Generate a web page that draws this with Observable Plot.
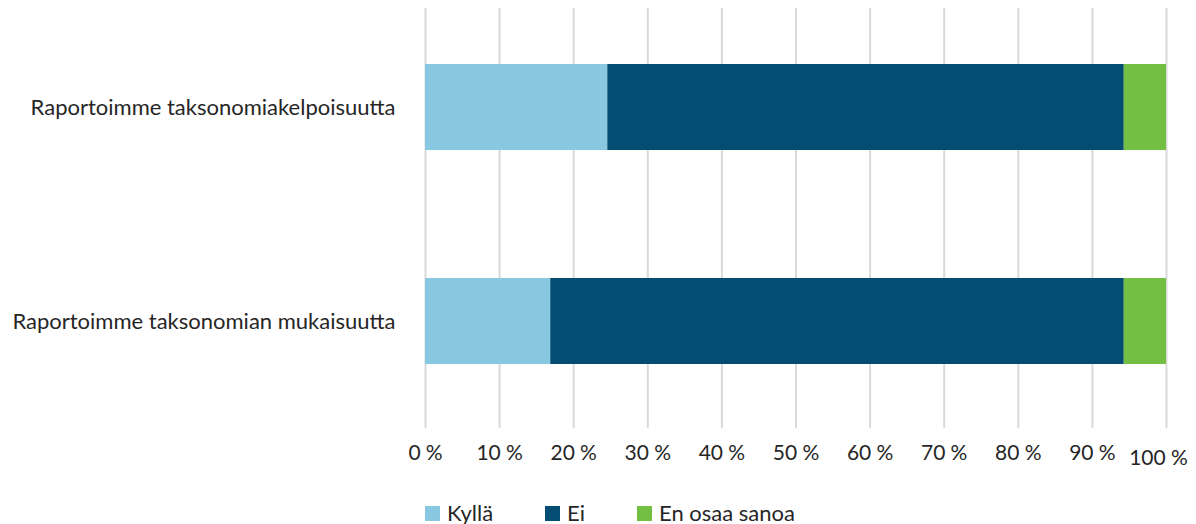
<!DOCTYPE html>
<html>
<head>
<meta charset="utf-8">
<script src="https://cdn.jsdelivr.net/npm/d3@7"></script>
<script src="https://cdn.jsdelivr.net/npm/@observablehq/plot@0.6"></script>
<style>
  html, body { margin: 0; padding: 0; background: #ffffff; }
  body { width: 1196px; height: 524px; overflow: hidden; font-family: Lato, "Open Sans", sans-serif; }
  #legend { display: flex; align-items: center; margin-left: 425px; margin-top: 20px; font-size: 22px; color: #262626; line-height: 26px; }
  .item { display: flex; align-items: center; margin-right: 52px; }
  .sw { width: 15px; height: 15px; margin-right: 7px; }
</style>
</head>
<body>
<div id="chart"></div>
<div id="legend"></div>
<script>
const categories = ["Raportoimme taksonomiakelpoisuutta", "Raportoimme taksonomian mukaisuutta"];
const answers = ["Kyllä", "Ei", "En osaa sanoa"];
const colors = ["#88C8E0", "#034D72", "#72BF44"];
const kylla = [24.6, 16.9];
const ei = [69.7, 77.4];
const enOsaa = [5.7, 5.7];
const xTicks = [0, 10, 20, 30, 40, 50, 60, 70, 80, 90, 100];

const seriesValues = [kylla, ei, enOsaa];
const data = [];
categories.forEach((c, i) => {
  answers.forEach((a, j) => data.push({category: c, answer: a, value: seriesValues[j][i]}));
});

const fmt = d => d + "\u202f%";

const chart = Plot.plot({
  width: 1196,
  height: 480,
  marginLeft: 425,
  marginRight: 30,
  marginTop: 8,
  marginBottom: 52,
  style: {fontFamily: "Lato, 'Open Sans', sans-serif", fontSize: "21px", color: "#262626", background: "#ffffff"},
  x: {domain: [0, 100]},
  y: {domain: categories, range: [8, 420], paddingInner: 0.6, paddingOuter: 0.26},
  color: {domain: answers, range: colors},
  marks: [
    Plot.gridX(xTicks, {stroke: "#D9D9D9", strokeOpacity: 1, strokeWidth: 2}),
    Plot.barX(data, {x: "value", y: "category", fill: "answer"}),
    Plot.axisX(xTicks.filter(d => d < 100), {tickSize: 0, tickPadding: 17, tickFormat: fmt, label: null, fill: "#262626", fontSize: 21}),
    Plot.axisX([100], {tickSize: 0, tickPadding: 22, tickFormat: fmt, label: null, fill: "#262626", fontSize: 21, dx: -8}),
    Plot.axisY({tickSize: 0, tickPadding: 30, label: null, fill: "#262626", fontSize: 22})
  ]
});
document.getElementById("chart").appendChild(chart);

const legend = d3.select("#legend");
answers.forEach((a, i) => {
  const it = legend.append("div").attr("class", "item");
  it.append("div").attr("class", "sw").style("background", colors[i]);
  it.append("span").text(a);
});
</script>
</body>
</html>
